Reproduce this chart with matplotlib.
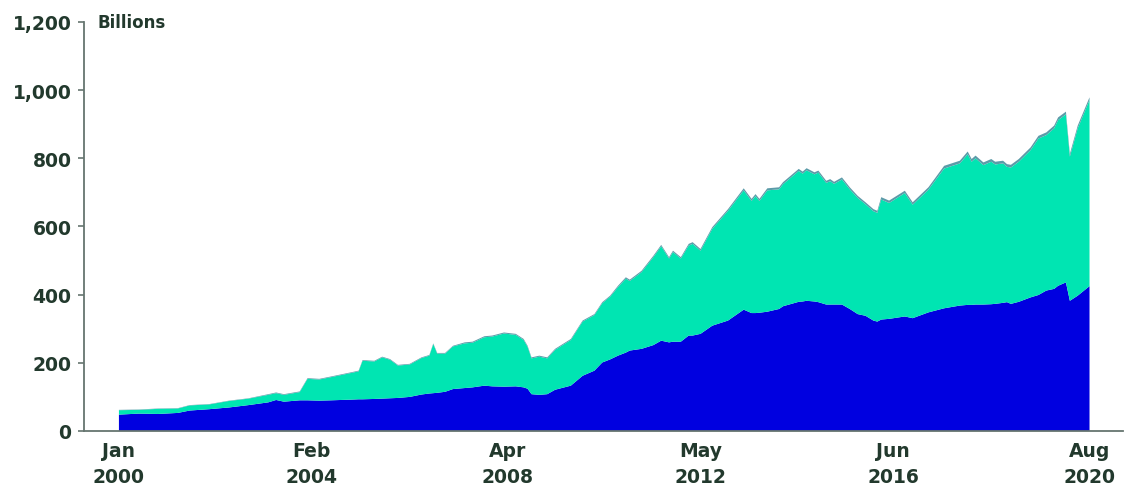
import matplotlib
matplotlib.use("Agg")
import matplotlib.pyplot as plt
import numpy as np

# Month offsets from Jan 2000
months = [0, 5, 10, 15, 18, 23, 28, 33, 38, 40, 42, 46, 48, 51, 54, 59, 61, 62, 65, 67,
          69, 71, 74, 77, 79, 80, 81, 83, 85, 88, 90, 93, 95, 98, 101, 103, 104, 105, 107, 109,
          111, 115, 118, 121, 123, 125, 127, 129, 130, 133, 136, 138, 140, 141, 143, 145, 146, 148, 151, 155,
          159, 161, 162, 163, 165, 168, 169, 173, 174, 175, 177, 178, 180, 181, 182, 184, 186, 188, 190, 192,
          193, 194, 196, 200, 202, 206, 210, 214, 216, 217, 218, 220, 222, 223, 225, 226, 227, 229, 232, 234,
          236, 238, 239, 241, 242, 244, 247]

# Bottom series (billions)
series_a = [48, 51, 50, 53, 60, 64, 69, 76, 84, 91, 86, 90, 90, 89, 90, 92, 93, 93, 94, 95,
            96, 97, 100, 107, 110, 111, 112, 115, 123, 126, 128, 133, 131, 130, 131, 128, 124, 108, 106, 108,
            121, 133, 162, 177, 201, 210, 221, 230, 236, 241, 252, 265, 260, 262, 262, 280, 280, 285, 309, 324,
            356, 346, 346, 347, 350, 358, 366, 379, 380, 382, 380, 378, 371, 371, 371, 371, 358, 343, 338, 324,
            321, 327, 329, 336, 331, 348, 360, 368, 370, 370, 371, 371, 372, 373, 376, 378, 373, 379, 392, 399,
            412, 417, 426, 436, 382, 397, 425]

# Total of all series (top edge)
total = [62, 63, 66, 67, 76, 79, 89, 96, 108, 113, 108, 116, 155, 153, 160, 172, 177, 208, 206, 218,
         211, 194, 197, 216, 223, 257, 229, 229, 250, 260, 262, 278, 280, 289, 285, 270, 250, 216, 221, 216,
         241, 270, 324, 343, 378, 397, 426, 451, 444, 470, 514, 546, 510, 529, 510, 549, 554, 534, 598, 651,
         712, 681, 695, 681, 712, 715, 730, 769, 761, 771, 759, 764, 734, 739, 731, 744, 715, 690, 671, 651,
         646, 686, 676, 705, 671, 715, 778, 793, 820, 798, 808, 788, 798, 790, 793, 783, 781, 798, 832, 866,
         876, 896, 920, 937, 813, 896, 979]

# Thin top series (billions)
series_c = [1, 1, 1, 1, 1, 1, 1, 1, 2, 2, 2, 2, 2, 2, 2, 2, 2, 2, 2, 2,
            2, 2, 2, 2, 2, 2, 2, 2, 2, 3, 3, 3, 3, 3, 3, 3, 3, 3, 3, 3,
            3, 3, 3, 3, 3, 3, 4, 4, 4, 4, 4, 4, 4, 4, 4, 5, 5, 5, 5, 5,
            6, 6, 6, 6, 6, 6, 6, 6, 6, 6, 6, 6, 6, 6, 6, 6, 6, 6, 6, 6,
            6, 7, 7, 7, 7, 7, 8, 8, 8, 8, 8, 8, 8, 8, 8, 8, 8, 8, 8, 8,
            8, 8, 8, 8, 8, 8, 8]

tick_months = [0, 49, 99, 148, 197, 247]
tick_labels = ["Jan\n2000", "Feb\n2004", "Apr\n2008", "May\n2012", "Jun\n2016", "Aug\n2020"]
y_ticks = [0, 200, 400, 600, 800, 1000, 1200]

x = np.array(months, dtype=float)
a = np.array(series_a, dtype=float)
c = np.array(series_c, dtype=float)
b = np.array(total, dtype=float) - a - c

BLUE = "#0000E0"
TEAL = "#00E5B2"
GREY = "#5B9BA8"
TEXT = "#22392D"
SPINE = "#667570"

fig = plt.figure(figsize=(11.33, 4.85), dpi=100)
ax = fig.add_axes([0.0741, 0.1093, 0.917, 0.8433])

ax.stackplot(x, a, b, c, colors=[BLUE, TEAL, GREY], linewidth=0, antialiased=True)

ax.set_xlim(-8.9, 255.5)
ax.set_ylim(0, 1200)

ax.set_yticks(y_ticks)
ax.set_yticklabels([f"{v:,}" for v in y_ticks])
ax.set_xticks(tick_months)
ax.set_xticklabels(tick_labels, linespacing=1.5)

for lab in ax.get_yticklabels() + ax.get_xticklabels():
    lab.set_fontweight("bold")
    lab.set_fontsize(13.5)
    lab.set_color(TEXT)
    lab.set_family("DejaVu Sans")

ax.tick_params(axis="y", length=4, width=1.2, color=SPINE, pad=5)
ax.tick_params(axis="x", length=0, pad=7)

for s in ["top", "right"]:
    ax.spines[s].set_visible(False)
for s in ["left", "bottom"]:
    ax.spines[s].set_color(SPINE)
    ax.spines[s].set_linewidth(1.3)

ax.text(0.0135, 1200, "Billions", transform=ax.get_yaxis_transform(), ha="left", va="center",
        fontsize=12, fontweight="bold", color=TEXT, family="DejaVu Sans")

fig.savefig("out.png", dpi=100)
